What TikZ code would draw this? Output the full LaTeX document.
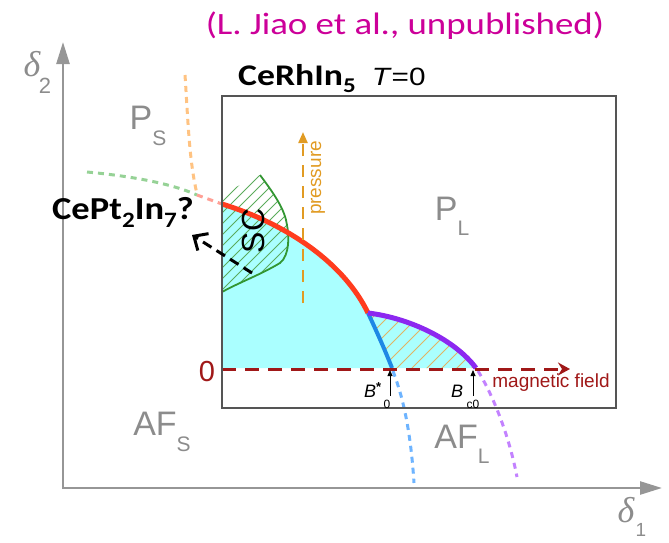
\documentclass[tikz,border=0pt]{standalone}
\usepackage{fontspec}
\setmainfont{Carlito}
\newfontfamily\arialf{Liberation Sans}
\newfontfamily\seriff{Liberation Serif}
\usetikzlibrary{arrows.meta,calc}
\definecolor{cyanfill}{RGB}{170,255,255}
\definecolor{redc}{RGB}{255,60,30}
\definecolor{bluec}{RGB}{30,136,229}
\definecolor{purplec}{RGB}{140,40,240}
\definecolor{greenc}{RGB}{50,150,50}
\definecolor{darkredc}{RGB}{160,24,24}
\definecolor{orangec}{RGB}{225,155,35}
\definecolor{magentac}{RGB}{204,0,153}
\definecolor{axisgray}{RGB}{150,150,150}
\definecolor{lblgray}{RGB}{140,140,140}
\definecolor{boxgray}{RGB}{85,85,85}
\definecolor{lightgreen}{RGB}{150,210,150}
\definecolor{lightorange}{RGB}{255,195,130}
\definecolor{salmon}{RGB}{255,160,150}
\definecolor{lightblue}{RGB}{110,180,255}
\definecolor{lightpurple}{RGB}{195,130,255}
\definecolor{hatchor}{RGB}{225,180,100}
\tikzset{
  axisline/.style={draw=axisgray,line width=2.5pt,-{Triangle[length=22pt,width=13pt]}},
  phaselbl/.style={text=lblgray,font=\arialf\fontsize{34}{34}\selectfont,inner sep=0pt},
  faint/.style={line width=3pt,dash pattern=on 6pt off 5pt},
  hatchg/.style={draw=greenc!80,line width=0.8pt},
  hatcho/.style={draw=hatchor,line width=0.8pt},
  smallarr/.style={draw=black,line width=0.8pt,-{Triangle[length=6pt,width=5pt]}},
  blbl/.style={font=\arialf\fontsize{18}{18}\selectfont,inner sep=0pt},
  dlbl/.style={text=lblgray,inner sep=0pt},
  deltalbl/.style={text=lblgray,inner sep=0pt,font=\seriff\itshape\fontsize{36}{36}\selectfont}
}
\begin{document}
\begin{tikzpicture}[x=1pt,y=-1pt]
\useasboundingbox (0,0) rectangle (669,542);
% cyan region
\fill[cyanfill] (222,204) -- (223,204) .. controls (290,225) and (345,265) .. (368,313)
  .. controls (410,318) and (455,340) .. (476,368) -- (222,368) -- cycle;
% green hatch (SC)
\begin{scope}
\clip (222,194) -- (260,175) .. controls (275,195) and (285,210) .. (287,225)
  .. controls (289,235) and (290,255) .. (280,263)
  .. controls (260,275) and (240,282) .. (222,292) -- cycle;
\foreach \c in {380,391,...,580} \draw[hatchg] (\c-300,300) -- (\c-150,150);
\end{scope}
% orange hatch
\begin{scope}
\clip (368,313) .. controls (376,330) and (385,350) .. (392,368) -- (476,368)
  .. controls (455,340) and (410,318) .. (368,313) -- cycle;
\foreach \c in {660,675,...,860} \draw[hatcho] (\c-380,380) -- (\c-300,300);
\end{scope}
% SC dome outline
\draw[greenc,line width=1.8pt] (260,175) .. controls (275,195) and (285,210) .. (287,225)
  .. controls (289,235) and (290,255) .. (280,263)
  .. controls (260,275) and (240,282) .. (222,292);
% faint extensions
\draw[faint,draw=lightgreen] (87,172) .. controls (130,176) and (170,183) .. (197,195);
\draw[faint,draw=lightorange] (185,75) .. controls (188,120) and (189,160) .. (197,194);
\draw[faint,draw=salmon] (197,195) -- (222,204);
\draw[faint,draw=lightblue] (393,371) .. controls (400,390) and (410,420) .. (414,483);
\draw[faint,draw=lightpurple] (478,371) .. controls (490,390) and (508,430) .. (517,477);
% main lines
\draw[redc,line width=5pt] (222,204) .. controls (290,225) and (345,265) .. (368,313);
\draw[bluec,line width=4pt] (368,313) .. controls (376,330) and (385,350) .. (392,368);
\draw[purplec,line width=5pt] (368,313) .. controls (410,318) and (455,340) .. (476,368);
% zero line
\coordinate (z0) at (222,369);
\coordinate (z1) at (570,369);
\draw[darkredc,line width=3pt,dash pattern=on 14pt off 9pt,-{Stealth[length=12pt,width=13pt,inset=4pt]}] (z0) -- (z1);
% pressure arrow
\coordinate (p0) at (303,303);
\coordinate (p1) at (303,132);
\draw[orangec,line width=2.2pt,dash pattern=on 12pt off 9pt,-{Triangle[length=11pt,width=9pt]}] (p0) -- (p1);
\node[text=orangec,font=\arialf\fontsize{19}{19}\selectfont,rotate=90,inner sep=0pt] (pr) at (318,178) {pressure};
% box
\draw[boxgray,line width=1.5pt] (222,96) rectangle (616,408);
% axes
\coordinate (o) at (63,488);
\coordinate (ytop) at (63,42);
\coordinate (xend) at (662,488);
\draw[axisline] (o) -- (ytop);
\draw[axisline] (o) -- (xend);
\draw[axisgray,line width=2.5pt] (63,489.2) -- (63,470);
% axis labels
\node[deltalbl] (d2) at (32,64) {δ};
\node[dlbl,font=\arialf\fontsize{22}{22}\selectfont] (d2s) at (45,86) {2};
\node[deltalbl] (d1) at (626,510) {δ};
\node[dlbl,font=\arialf\fontsize{19}{19}\selectfont] (d1s) at (641,530) {1};
% phase labels
\node[phaselbl] (ps) at (148,126) {P\raisebox{-0.45em}{\fontsize{21}{21}\selectfont S}};
\node[phaselbl] (pl) at (452,216) {P\raisebox{-0.45em}{\fontsize{21}{21}\selectfont L}};
\node[phaselbl] (afs) at (162,432) {AF\raisebox{-0.45em}{\fontsize{21}{21}\selectfont S}};
\node[phaselbl] (afl) at (462,444) {AF\raisebox{-0.45em}{\fontsize{21}{21}\selectfont L}};
% SC label
\node[font=\arialf\fontsize{32}{32}\selectfont,rotate=90,inner sep=0pt] (sc) at (253,231) {SC};
% zero label
\node[text=darkredc,font=\arialf\fontsize{29}{29}\selectfont,inner sep=0pt] (zl) at (207,372) {0};
\node[text=darkredc,font=\arialf\fontsize{19}{19}\selectfont,inner sep=0pt] (mf) at (551,383) {magnetic field};
% B labels
\coordinate (b0a) at (390,396);
\coordinate (b0b) at (390,370);
\coordinate (bca) at (473,396);
\coordinate (bcb) at (473,370);
\draw[smallarr] (b0a) -- (b0b);
\draw[smallarr] (bca) -- (bcb);
\node[blbl,anchor=base west] (bstar) at (364,397) {\textit{B}\raisebox{0.3em}{\fontsize{13}{13}\selectfont\textbf{*}}};
\node[font=\arialf\fontsize{12}{12}\selectfont,inner sep=0pt] (bsub0) at (387,404) {0};
\node[blbl,anchor=base west] (bc) at (451,397) {\textit{B}};
\node[font=\arialf\fontsize{12}{12}\selectfont,inner sep=0pt] (bsubc) at (473,404) {c0};
% CePt2In7 arrow
\node[font=\bfseries\fontsize{32}{32}\selectfont,inner sep=0pt,xscale=1.14] (cept) at (123,212) {CePt\raisebox{-0.25em}{\fontsize{22}{22}\selectfont 2}In\raisebox{-0.25em}{\fontsize{22}{22}\selectfont 7}?};
\coordinate (ca0) at (252,273);
\coordinate (ca1) at (192,235);
\draw[black,line width=3pt,dash pattern=on 10pt off 6pt,-{Straight Barb[length=11pt,width=20pt]}] (ca0) -- (ca1);
% title texts
\node[font=\fontsize{30}{30}\selectfont,inner sep=0pt,anchor=base west,xscale=1.19] (cerh) at (238,85) {\textbf{CeRhIn\raisebox{-0.25em}{\fontsize{21}{21}\selectfont 5}}\hspace{0.45em}{\arialf\fontsize{25}{25}\selectfont\textit{T}=0}};
\node[text=magentac,font=\fontsize{31}{31}\selectfont,inner sep=0pt,xscale=1.19] (title) at (405,26) {(L. Jiao et al., unpublished)};
\end{tikzpicture}
\end{document}
